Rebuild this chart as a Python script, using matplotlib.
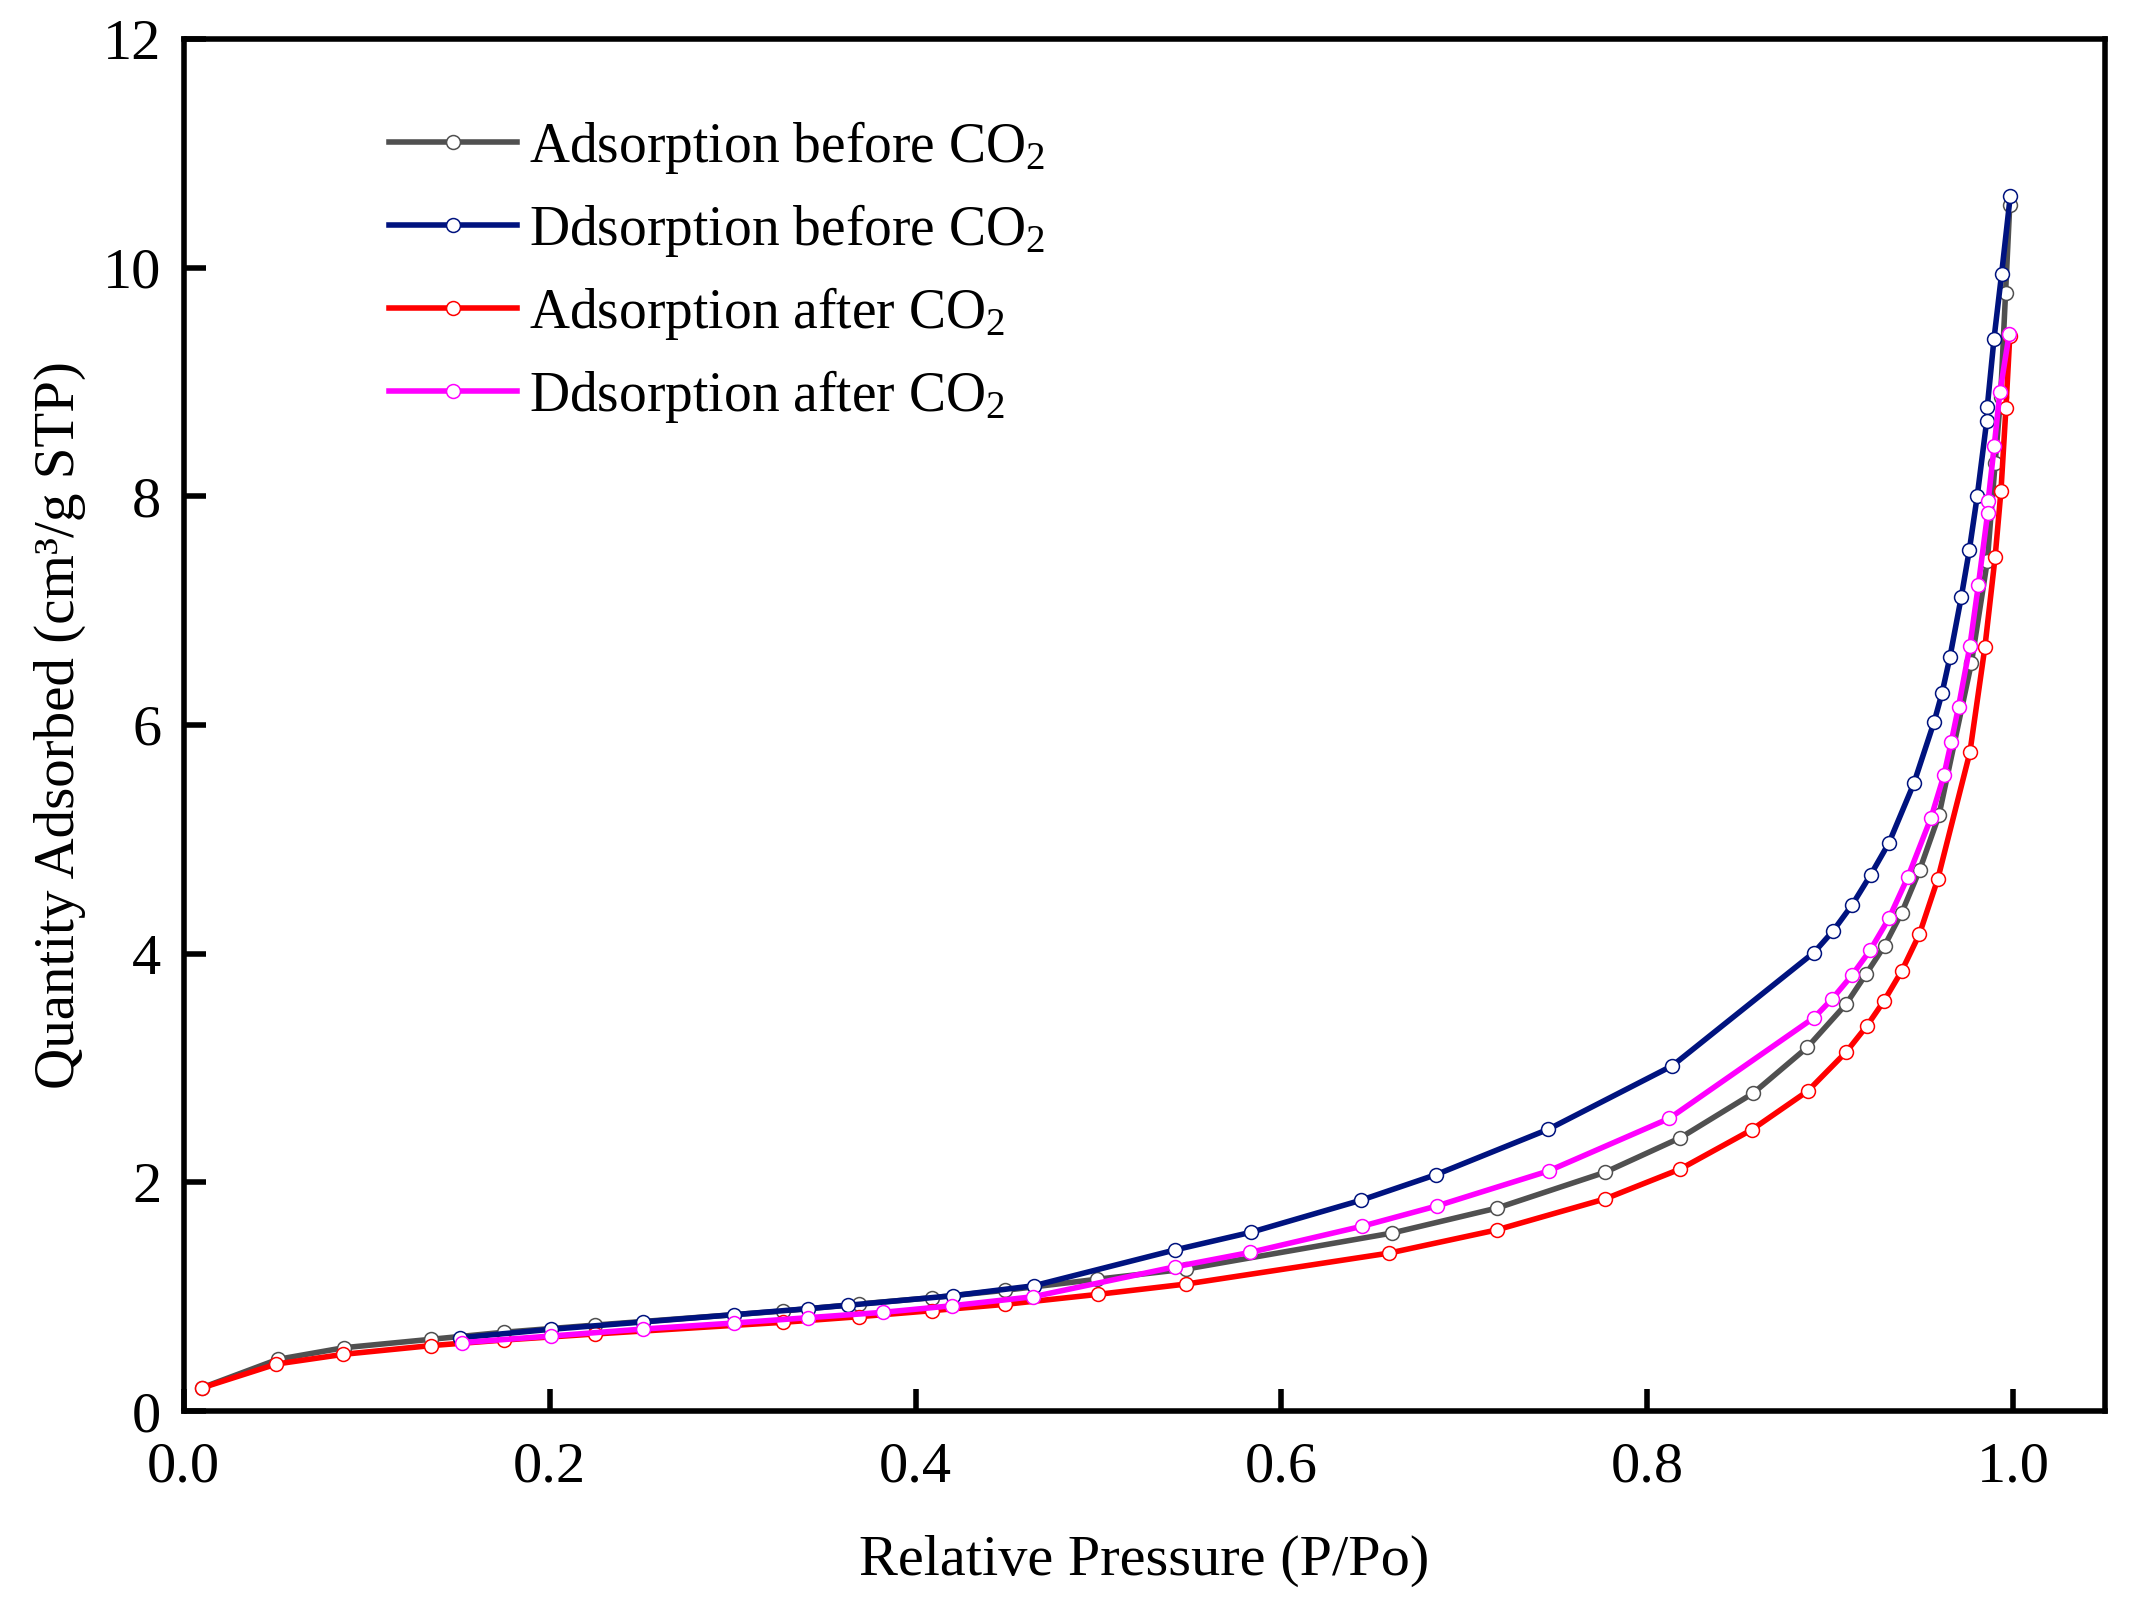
import matplotlib
matplotlib.use("Agg")
import matplotlib.pyplot as plt

plt.rcParams['font.family'] = ['Liberation Serif', 'DejaVu Serif']
plt.rcParams['mathtext.fontset'] = 'custom'
plt.rcParams['mathtext.rm'] = 'Liberation Serif'
plt.rcParams['mathtext.it'] = 'Liberation Serif:italic'

# Adsorption before CO2
ads_before_x = [0.0103, 0.0515, 0.0877, 0.135, 0.175, 0.225, 0.3276, 0.369, 0.409, 0.449,
                0.499, 0.548, 0.6605, 0.718, 0.7768, 0.818, 0.8578, 0.8873, 0.9086, 0.9194,
                0.9296, 0.939, 0.9487, 0.9593, 0.977, 0.9857, 0.990, 0.993, 0.9957, 0.998]
ads_before_y = [0.205, 0.452, 0.554, 0.627, 0.689, 0.752, 0.875, 0.936, 0.991, 1.056,
                1.152, 1.242, 1.557, 1.776, 2.088, 2.39, 2.78, 3.18, 3.56, 3.82,
                4.07, 4.36, 4.73, 5.21, 6.54, 7.43, 8.29, 8.87, 9.78, 10.55]

# Desorption before CO2
des_before_x = [0.9983, 0.9935, 0.9894, 0.9857, 0.9854, 0.9802, 0.9759, 0.9715, 0.9653, 0.961,
                0.9567, 0.9456, 0.932, 0.922, 0.912, 0.9015, 0.891, 0.8136, 0.7458, 0.6844,
                0.6433, 0.5832, 0.5418, 0.4648, 0.4207, 0.363, 0.341, 0.301, 0.251, 0.2008, 0.151]
des_before_y = [10.63, 9.94, 9.38, 8.78, 8.66, 8.00, 7.53, 7.12, 6.594, 6.28,
                6.03, 5.49, 4.97, 4.69, 4.43, 4.20, 4.01, 3.02, 2.464, 2.067,
                1.843, 1.563, 1.409, 1.096, 1.009, 0.925, 0.895, 0.843, 0.779, 0.715, 0.641]

# Adsorption after CO2
ads_after_x = [0.0103, 0.0507, 0.0873, 0.135, 0.175, 0.225, 0.3276, 0.369, 0.409, 0.449,
               0.500, 0.548, 0.659, 0.7176, 0.7768, 0.818, 0.857, 0.8877, 0.9086, 0.920,
               0.9294, 0.939, 0.9486, 0.9586, 0.9762, 0.9844, 0.990, 0.9932, 0.9959, 0.998]
ads_after_y = [0.204, 0.411, 0.496, 0.572, 0.621, 0.674, 0.776, 0.825, 0.878, 0.933,
               1.021, 1.111, 1.382, 1.584, 1.855, 2.117, 2.46, 2.80, 3.14, 3.37,
               3.59, 3.85, 4.17, 4.65, 5.76, 6.68, 7.47, 8.05, 8.77, 9.40]

# Desorption after CO2
des_after_x = [0.9977, 0.9926, 0.9895, 0.9862, 0.9859, 0.9808, 0.9762, 0.970, 0.966, 0.962,
               0.955, 0.9423, 0.932, 0.9217, 0.9117, 0.9007, 0.891, 0.812, 0.746, 0.685,
               0.644, 0.583, 0.542, 0.4644, 0.420, 0.382, 0.341, 0.301, 0.251, 0.2008, 0.152]
des_after_y = [9.42, 8.91, 8.44, 7.96, 7.85, 7.22, 6.69, 6.16, 5.85, 5.56,
               5.19, 4.67, 4.31, 4.03, 3.81, 3.60, 3.44, 2.56, 2.10, 1.794,
               1.616, 1.388, 1.262, 1.0, 0.921, 0.863, 0.816, 0.770, 0.717, 0.656, 0.598]

labels = [r'Adsorption before CO$_2$', r'Ddsorption before CO$_2$',
          r'Adsorption after CO$_2$', r'Ddsorption after CO$_2$']
colors = ['#505050', '#00137F', '#FF0000', '#FF00FF']

fig = plt.figure(figsize=(21.32, 16.02), dpi=100)
ax = fig.add_axes([0.0861, 0.1192, 0.9012, 0.8565])

series = [(ads_before_x, ads_before_y, 2), (des_before_x, des_before_y, 4),
          (ads_after_x, ads_after_y, 3), (des_after_x, des_after_y, 5)]
for (xs, ys, z), lab, c in zip(series, labels, colors):
    ax.plot(xs, ys, '-', color=c, lw=4.0, marker='o', ms=10, mfc='white',
            mec=c, mew=1.1, label=lab, zorder=z)

ax.set_xlim(0, 1.05)
ax.set_ylim(0, 12)
ax.set_xticks([0.0, 0.2, 0.4, 0.6, 0.8, 1.0])
ax.set_xticklabels(['0.0', '0.2', '0.4', '0.6', '0.8', '1.0'])
ax.set_yticks([0, 2, 4, 6, 8, 10, 12])

for s in ax.spines.values():
    s.set_linewidth(4)
ax.tick_params(axis='both', direction='in', length=16, width=4, labelsize=42)
ax.tick_params(axis='x', pad=22)
ax.tick_params(axis='y', pad=16)

ax.set_xlabel('Relative Pressure (P/Po)', fontsize=42, labelpad=30)
ax.set_ylabel('Quantity Adsorbed (cm\u00b3/g STP)', fontsize=41, labelpad=12)

leg = ax.legend(loc='upper left', bbox_to_anchor=(0.107, 0.942), frameon=False,
                fontsize=40, handlelength=2.3, handletextpad=0.22,
                labelspacing=0.47, borderaxespad=0, borderpad=0)

fig.savefig('out.png', dpi=100)
